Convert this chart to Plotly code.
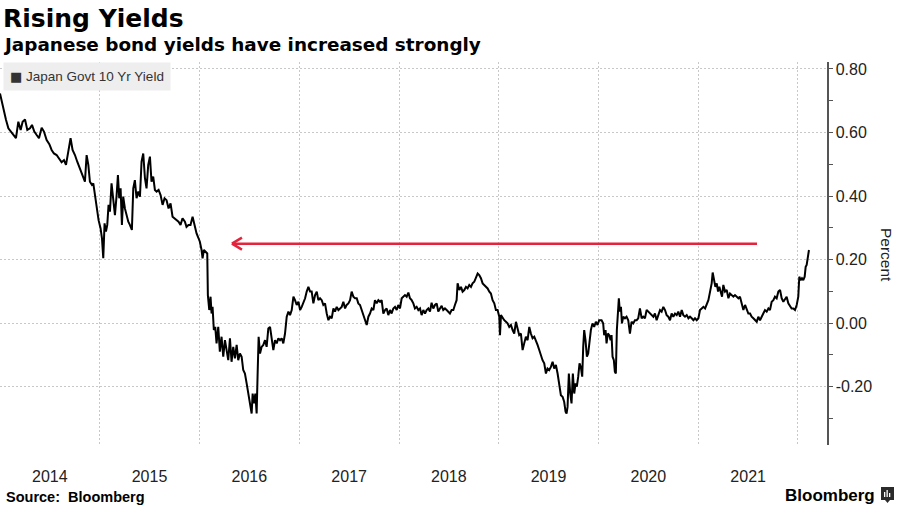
import plotly.graph_objects as go
from datetime import datetime, timedelta

# ---------------- text ----------------
TITLE = "Rising Yields"
SUBTITLE = "Japanese bond yields have increased strongly"
SERIES_NAME = "Japan Govt 10 Yr Yield"
SOURCE = "Source:  Bloomberg"
BRAND = "Bloomberg"
Y_TITLE = "Percent"

# ---------------- axes ----------------
Y_TICK_VALUES = [-0.2, 0.0, 0.2, 0.4, 0.6, 0.8]
Y_TICK_TEXT = ["-0.20", "0.00", "0.20", "0.40", "0.60", "0.80"]
Y_MINOR_VALUES = [-0.3, -0.1, 0.1, 0.3, 0.5, 0.7]
Y_RANGE = [-0.384, 0.822]
X_RANGE = [2014.0, 2022.291]          # decimal years

# ---------------- annotation: yield-cap arrow ----------------
CAP_LEVEL = 0.25
CAP_ARROW_HEAD = 2016.326             # decimal year
CAP_ARROW_TAIL = 2021.589             # decimal year

# ---------------- data: (decimal year, yield %) ----------------
seg_2014_2015 = [
    (2014.000, 0.723), (2014.027, 0.687), (2014.040, 0.660), (2014.060, 0.640), (2014.084, 0.613),
    (2014.107, 0.603), (2014.134, 0.592), (2014.160, 0.582), (2014.184, 0.634), (2014.207, 0.608),
    (2014.227, 0.634), (2014.251, 0.641), (2014.274, 0.608), (2014.301, 0.613), (2014.321, 0.624),
    (2014.344, 0.603), (2014.368, 0.592), (2014.391, 0.582), (2014.418, 0.615), (2014.441, 0.603),
    (2014.468, 0.576), (2014.495, 0.563), (2014.518, 0.545), (2014.541, 0.534), (2014.568, 0.529),
    (2014.595, 0.517), (2014.618, 0.506), (2014.642, 0.513), (2014.662, 0.498), (2014.685, 0.540),
    (2014.708, 0.582), (2014.728, 0.545), (2014.752, 0.529), (2014.775, 0.508), (2014.802, 0.487),
    (2014.829, 0.461), (2014.852, 0.445), (2014.869, 0.529), (2014.886, 0.498), (2014.902, 0.445),
    (2014.922, 0.435), (2014.936, 0.440), (2014.952, 0.403), (2014.969, 0.361), (2014.989, 0.324),
    (2015.009, 0.298), (2015.023, 0.267), (2015.036, 0.204), (2015.049, 0.314), (2015.063, 0.288),
    (2015.076, 0.309), (2015.089, 0.372), (2015.103, 0.351), (2015.119, 0.440), (2015.136, 0.393),
    (2015.153, 0.340), (2015.170, 0.403), (2015.183, 0.466), (2015.196, 0.393), (2015.210, 0.424),
    (2015.223, 0.309), (2015.236, 0.398), (2015.253, 0.361), (2015.270, 0.340), (2015.287, 0.319),
    (2015.303, 0.309), (2015.323, 0.293), (2015.337, 0.424), (2015.353, 0.450), (2015.370, 0.393),
    (2015.387, 0.414), (2015.404, 0.398), (2015.420, 0.508), (2015.437, 0.534), (2015.454, 0.456),
    (2015.470, 0.424), (2015.487, 0.498), (2015.504, 0.524), (2015.520, 0.445), (2015.537, 0.461),
    (2015.554, 0.419), (2015.571, 0.414), (2015.591, 0.419), (2015.611, 0.403), (2015.631, 0.372),
    (2015.651, 0.393), (2015.671, 0.387), (2015.691, 0.361), (2015.711, 0.377), (2015.731, 0.335),
    (2015.751, 0.330), (2015.771, 0.324), (2015.791, 0.319), (2015.811, 0.309), (2015.831, 0.330),
    (2015.855, 0.319), (2015.871, 0.303), (2015.891, 0.309), (2015.911, 0.309), (2015.932, 0.335),
    (2015.952, 0.303), (2015.972, 0.282), (2015.992, 0.267),
]

seg_2016_2017 = [
    (2016.005, 0.256), (2016.022, 0.230), (2016.032, 0.204), (2016.045, 0.230), (2016.065, 0.225),
    (2016.079, 0.219), (2016.085, 0.088), (2016.099, 0.041), (2016.112, 0.083), (2016.122, 0.030),
    (2016.132, 0.051), (2016.145, -0.022), (2016.159, -0.012), (2016.172, -0.064), (2016.189, -0.012),
    (2016.205, -0.090), (2016.222, -0.043), (2016.239, -0.106), (2016.256, -0.054), (2016.272, -0.085),
    (2016.289, -0.117), (2016.306, -0.048), (2016.322, -0.122), (2016.339, -0.075), (2016.356, -0.111),
    (2016.373, -0.069), (2016.389, -0.117), (2016.406, -0.096), (2016.423, -0.106), (2016.439, -0.148),
    (2016.456, -0.159), (2016.473, -0.190), (2016.490, -0.222), (2016.506, -0.264), (2016.523, -0.285),
    (2016.533, -0.222), (2016.546, -0.253), (2016.560, -0.222), (2016.573, -0.285), (2016.583, -0.159),
    (2016.593, -0.043), (2016.607, -0.096), (2016.623, -0.075), (2016.640, -0.069), (2016.657, -0.054),
    (2016.673, -0.075), (2016.690, -0.017), (2016.707, -0.012), (2016.723, -0.043), (2016.740, -0.085),
    (2016.757, -0.054), (2016.774, -0.064), (2016.790, -0.048), (2016.807, -0.054), (2016.824, -0.048),
    (2016.840, -0.064), (2016.857, -0.033), (2016.874, 0.020), (2016.891, 0.036), (2016.907, 0.025),
    (2016.924, 0.041), (2016.941, 0.083), (2016.957, 0.072), (2016.974, 0.057), (2016.991, 0.067),
    (2017.008, 0.041), (2017.024, 0.051), (2017.041, 0.062), (2017.058, 0.078), (2017.074, 0.099),
    (2017.091, 0.114), (2017.108, 0.099), (2017.124, 0.099), (2017.141, 0.062), (2017.158, 0.088),
    (2017.175, 0.099), (2017.191, 0.072), (2017.208, 0.078), (2017.225, 0.072), (2017.241, 0.057),
    (2017.258, 0.062), (2017.275, 0.030), (2017.292, 0.009), (2017.308, 0.020), (2017.325, 0.015),
    (2017.342, 0.046), (2017.358, 0.036), (2017.375, 0.051), (2017.392, 0.041), (2017.409, 0.046),
    (2017.425, 0.051), (2017.442, 0.067), (2017.459, 0.046), (2017.475, 0.057), (2017.492, 0.062),
    (2017.509, 0.072), (2017.525, 0.099), (2017.542, 0.083), (2017.559, 0.078), (2017.576, 0.078),
    (2017.592, 0.062), (2017.609, 0.057), (2017.626, 0.041), (2017.642, 0.030), (2017.659, 0.015),
    (2017.676, -0.006), (2017.693, 0.020), (2017.709, 0.030), (2017.726, 0.046), (2017.743, 0.041),
    (2017.759, 0.072), (2017.776, 0.062), (2017.793, 0.072), (2017.810, 0.067), (2017.826, 0.072),
    (2017.843, 0.030), (2017.860, 0.041), (2017.876, 0.046), (2017.893, 0.025), (2017.910, 0.041),
    (2017.926, 0.030), (2017.943, 0.046), (2017.960, 0.051), (2017.977, 0.041), (2017.993, 0.057),
]

seg_2018_2019 = [
    (2018.010, 0.046), (2018.027, 0.078), (2018.043, 0.083), (2018.060, 0.088), (2018.077, 0.083),
    (2018.094, 0.096), (2018.110, 0.078), (2018.127, 0.072), (2018.144, 0.062), (2018.160, 0.046),
    (2018.177, 0.051), (2018.194, 0.041), (2018.211, 0.046), (2018.227, 0.025), (2018.244, 0.041),
    (2018.261, 0.030), (2018.277, 0.041), (2018.294, 0.046), (2018.311, 0.036), (2018.327, 0.064),
    (2018.344, 0.046), (2018.361, 0.057), (2018.378, 0.062), (2018.394, 0.036), (2018.411, 0.046),
    (2018.428, 0.054), (2018.444, 0.041), (2018.461, 0.046), (2018.478, 0.041), (2018.495, 0.036),
    (2018.511, 0.030), (2018.528, 0.041), (2018.545, 0.041), (2018.561, 0.057), (2018.578, 0.072),
    (2018.588, 0.125), (2018.605, 0.104), (2018.622, 0.114), (2018.638, 0.099), (2018.655, 0.104),
    (2018.672, 0.114), (2018.688, 0.109), (2018.705, 0.120), (2018.722, 0.114), (2018.738, 0.125),
    (2018.755, 0.130), (2018.772, 0.141), (2018.789, 0.156), (2018.805, 0.151), (2018.822, 0.141),
    (2018.839, 0.125), (2018.855, 0.120), (2018.872, 0.114), (2018.889, 0.109), (2018.906, 0.099),
    (2018.922, 0.093), (2018.939, 0.072), (2018.956, 0.062), (2018.972, 0.041), (2018.989, 0.041),
    (2019.006, 0.020), (2019.013, -0.038), (2019.023, 0.025), (2019.039, 0.015), (2019.056, 0.009),
    (2019.073, 0.004), (2019.089, -0.001), (2019.106, -0.012), (2019.123, -0.006), (2019.140, -0.022),
    (2019.156, -0.033), (2019.173, 0.004), (2019.190, -0.022), (2019.206, -0.038), (2019.223, -0.033),
    (2019.240, -0.085), (2019.256, -0.064), (2019.273, -0.043), (2019.290, -0.054), (2019.307, -0.012),
    (2019.323, -0.033), (2019.340, -0.048), (2019.357, -0.043), (2019.373, -0.054), (2019.390, -0.069),
    (2019.407, -0.085), (2019.424, -0.106), (2019.440, -0.117), (2019.457, -0.127), (2019.474, -0.159),
    (2019.490, -0.143), (2019.507, -0.148), (2019.524, -0.138), (2019.541, -0.122), (2019.557, -0.143),
    (2019.574, -0.132), (2019.591, -0.159), (2019.607, -0.200), (2019.624, -0.227), (2019.641, -0.232),
    (2019.657, -0.248), (2019.671, -0.279), (2019.681, -0.285), (2019.691, -0.264), (2019.704, -0.159),
    (2019.718, -0.222), (2019.731, -0.253), (2019.744, -0.159), (2019.758, -0.222), (2019.771, -0.190),
    (2019.784, -0.200), (2019.798, -0.169), (2019.811, -0.127), (2019.824, -0.138), (2019.838, -0.169),
    (2019.848, -0.075), (2019.858, -0.022), (2019.871, -0.054), (2019.885, -0.106), (2019.898, -0.096),
    (2019.911, -0.054), (2019.925, -0.022), (2019.941, -0.001), (2019.958, -0.012), (2019.975, 0.004),
    (2019.992, -0.006), (2020.008, 0.009),
]

seg_2020_2022 = [
    (2020.015, 0.009), (2020.032, 0.009), (2020.048, -0.001), (2020.058, -0.038), (2020.072, -0.022),
    (2020.082, -0.064), (2020.095, -0.033), (2020.109, -0.038), (2020.122, -0.054), (2020.132, -0.038),
    (2020.142, -0.106), (2020.155, -0.117), (2020.165, -0.153), (2020.175, -0.159), (2020.185, -0.022),
    (2020.195, 0.051), (2020.205, 0.078), (2020.215, 0.036), (2020.226, 0.051), (2020.236, -0.001),
    (2020.249, 0.020), (2020.266, 0.015), (2020.282, 0.020), (2020.299, 0.009), (2020.316, -0.033),
    (2020.332, 0.004), (2020.349, -0.001), (2020.366, 0.009), (2020.383, 0.009), (2020.399, 0.015),
    (2020.416, 0.046), (2020.433, 0.015), (2020.449, 0.020), (2020.466, 0.015), (2020.483, 0.041),
    (2020.500, 0.036), (2020.516, 0.030), (2020.533, 0.025), (2020.550, 0.020), (2020.566, 0.030),
    (2020.583, 0.009), (2020.600, 0.025), (2020.617, 0.041), (2020.633, 0.036), (2020.650, 0.051),
    (2020.667, 0.041), (2020.683, 0.025), (2020.700, 0.020), (2020.717, 0.009), (2020.733, 0.030),
    (2020.750, 0.020), (2020.767, 0.030), (2020.784, 0.025), (2020.800, 0.036), (2020.817, 0.020),
    (2020.834, 0.041), (2020.850, 0.025), (2020.867, 0.020), (2020.884, 0.025), (2020.901, 0.015),
    (2020.917, 0.020), (2020.934, 0.015), (2020.951, 0.009), (2020.967, 0.015), (2020.984, 0.009),
    (2021.001, 0.015), (2021.017, 0.041), (2021.034, 0.046), (2021.051, 0.051), (2021.068, 0.046),
    (2021.084, 0.057), (2021.101, 0.072), (2021.118, 0.099), (2021.134, 0.125), (2021.144, 0.159),
    (2021.158, 0.130), (2021.171, 0.114), (2021.185, 0.125), (2021.198, 0.099), (2021.211, 0.114),
    (2021.225, 0.099), (2021.238, 0.083), (2021.251, 0.120), (2021.268, 0.099), (2021.285, 0.104),
    (2021.302, 0.078), (2021.318, 0.093), (2021.335, 0.088), (2021.352, 0.083), (2021.368, 0.088),
    (2021.385, 0.083), (2021.402, 0.078), (2021.418, 0.083), (2021.435, 0.062), (2021.452, 0.041),
    (2021.469, 0.057), (2021.485, 0.041), (2021.502, 0.030), (2021.519, 0.030), (2021.535, 0.020),
    (2021.552, 0.015), (2021.569, 0.009), (2021.586, 0.004), (2021.602, 0.020), (2021.619, 0.009),
    (2021.636, 0.020), (2021.652, 0.030), (2021.669, 0.041), (2021.686, 0.036), (2021.703, 0.046),
    (2021.719, 0.041), (2021.736, 0.067), (2021.753, 0.072), (2021.769, 0.083), (2021.786, 0.078),
    (2021.803, 0.099), (2021.820, 0.104), (2021.836, 0.078), (2021.853, 0.067), (2021.870, 0.078),
    (2021.886, 0.083), (2021.903, 0.062), (2021.920, 0.051), (2021.936, 0.046), (2021.953, 0.046),
    (2021.970, 0.041), (2021.987, 0.057), (2022.003, 0.083), (2022.013, 0.146), (2022.027, 0.135),
    (2022.040, 0.141), (2022.053, 0.135), (2022.067, 0.146), (2022.077, 0.177), (2022.087, 0.183),
    (2022.097, 0.204), (2022.110, 0.230),
]


def to_date(t):
    """Decimal year -> datetime."""
    year = int(t)
    start = datetime(year, 1, 1)
    days = (datetime(year + 1, 1, 1) - start).days
    return start + timedelta(days=(t - year) * days)


points = seg_2014_2015 + seg_2016_2017 + seg_2018_2019 + seg_2020_2022
dates = [to_date(t) for t, _ in points]
yields = [v for _, v in points]

# ---------------- figure ----------------
W, H = 900, 506
L, R, T, B = 0, 73, 62, 61
PW, PH = W - L - R, H - T - B


def px(xpix):
    return (xpix - L) / PW


def py(ypix):
    return (H - B - ypix) / PH


fig = go.Figure()
fig.add_trace(go.Scatter(
    x=dates, y=yields, mode="lines", name=SERIES_NAME,
    line=dict(color="#000000", width=2), showlegend=False, hoverinfo="skip",
))

RED = "#e3243d"
head = to_date(CAP_ARROW_HEAD)
tail = to_date(CAP_ARROW_TAIL)
shapes = [
    dict(type="line", xref="x", yref="y", x0=head, x1=tail, y0=CAP_LEVEL, y1=CAP_LEVEL,
         line=dict(color=RED, width=2.5)),
]
for sgn in (1, -1):
    shapes.append(dict(type="line", xref="x", yref="y",
                       xsizemode="pixel", xanchor=head, x0=0, x1=10,
                       ysizemode="pixel", yanchor=CAP_LEVEL, y0=0, y1=6 * sgn,
                       line=dict(color=RED, width=2.5)))
# Bloomberg logo glyph (small dark badge with white bars)
shapes.append(dict(type="rect", xref="paper", yref="paper",
                   x0=px(881), x1=px(894), y0=py(500), y1=py(487),
                   fillcolor="#2b2b2b", line=dict(width=0)))
shapes.append(dict(type="path", xref="paper", yref="paper",
                   path=f"M {px(885)} {py(500)} L {px(887.5)} {py(503)} L {px(890)} {py(500)} Z",
                   fillcolor="#2b2b2b", line=dict(width=0)))
for bx, top in ((884, 492), (886.5, 490), (889, 493)):
    shapes.append(dict(type="rect", xref="paper", yref="paper",
                       x0=px(bx), x1=px(bx + 1.3), y0=py(497), y1=py(top),
                       fillcolor="#ffffff", line=dict(width=0)))

FONT = "Liberation Sans"
HEAD_FONT = "DejaVu Sans"
annotations = [
    dict(text=f"<b>{TITLE}</b>", x=px(1), y=py(18), xref="paper", yref="paper",
         xanchor="left", yanchor="middle", showarrow=False,
         font=dict(family=HEAD_FONT, size=25, color="#000000")),
    dict(text=f"<b>{SUBTITLE}</b>", x=px(1), y=py(45), xref="paper", yref="paper",
         xanchor="left", yanchor="middle", showarrow=False,
         font=dict(family=HEAD_FONT, size=18.4, color="#000000")),
    dict(text=f"<span style='font-family:DejaVu Sans;font-size:13px'>■</span> {SERIES_NAME}",
         x=px(3), y=py(62), xref="paper", yref="paper",
         xanchor="left", yanchor="top", showarrow=False, bgcolor="#eeeeee", borderpad=6,
         font=dict(family=FONT, size=13.5, color="#333333")),
    dict(text=Y_TITLE, x=px(887), y=py(255), xref="paper", yref="paper",
         xanchor="center", yanchor="middle", showarrow=False, textangle=90,
         font=dict(family=FONT, size=15.5, color="#222222")),
    dict(text=f"<b>{SOURCE}</b>", x=px(4), y=py(497), xref="paper", yref="paper",
         xanchor="left", yanchor="middle", showarrow=False,
         font=dict(family=FONT, size=14.5, color="#000000")),
    dict(text=f"<b>{BRAND}</b>", x=px(877), y=py(495), xref="paper", yref="paper",
         xanchor="right", yanchor="middle", showarrow=False,
         font=dict(family=FONT, size=17, color="#000000")),
]

fig.update_layout(
    width=W, height=H,
    margin=dict(l=L, r=R, t=T, b=B, pad=0),
    paper_bgcolor="#ffffff", plot_bgcolor="#ffffff",
    showlegend=False,
    font=dict(family=FONT, color="#222222"),
    shapes=shapes,
    annotations=annotations,
    xaxis=dict(
        type="date", automargin=False,
        range=[to_date(X_RANGE[0]), to_date(X_RANGE[1])],
        tick0="2014-01-01", dtick="M12", ticklabelmode="period", tickformat="%Y",
        showgrid=True, gridcolor="#c8c8c8", griddash="2px,2px", gridwidth=1,
        zeroline=False, showline=False, ticks="",
        tickfont=dict(family=FONT, size=16, color="#222222"),
        ticklabelstandoff=20,
    ),
    yaxis=dict(
        side="right", range=Y_RANGE, automargin=False,
        tickmode="array", tickvals=Y_TICK_VALUES, ticktext=Y_TICK_TEXT,
        showgrid=True, gridcolor="#c8c8c8", griddash="2px,2px", gridwidth=1,
        zeroline=False, showline=True, linecolor="#555555", linewidth=1.5,
        ticks="outside", ticklen=4, tickcolor="#555555", tickwidth=1,
        minor=dict(tickmode="array", tickvals=Y_MINOR_VALUES, ticks="outside",
                   ticklen=4, tickcolor="#555555", tickwidth=1, showgrid=False),
        tickfont=dict(family=FONT, size=16, color="#222222"),
    ),
)

fig.write_html(
    "out.html",
    config={"displayModeBar": False, "staticPlot": True},
    post_script="document.body.style.margin='0';document.body.style.overflow='hidden';",
)
